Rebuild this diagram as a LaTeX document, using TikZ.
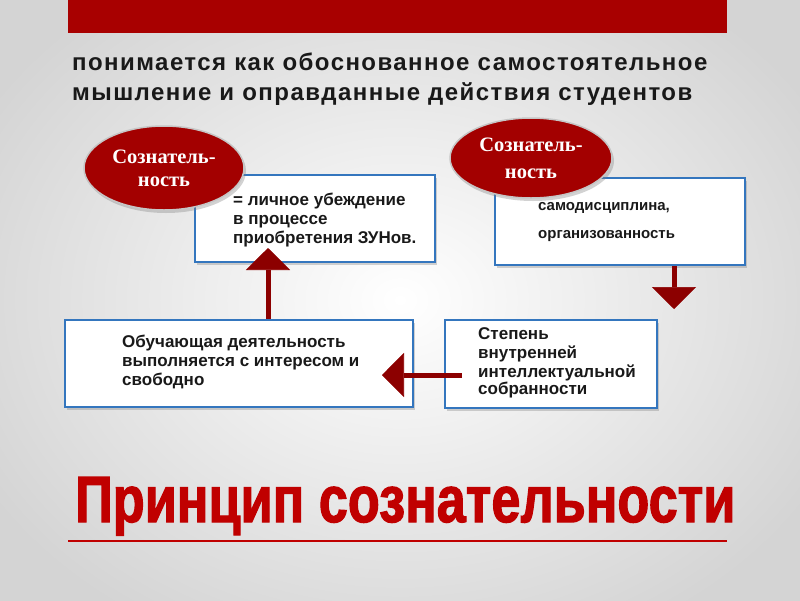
\documentclass[tikz,border=0pt]{standalone}
\usepackage{fontspec}
\setmainfont{Liberation Sans}
\newfontfamily\ellfont{Liberation Serif}
\newfontfamily\headfont[LetterSpace=6]{Liberation Sans}
\newfontfamily\titlefont[BoldFeatures={FakeBold=2}]{Liberation Sans}
\usetikzlibrary{shapes.geometric,shadows,arrows.meta}
\definecolor{barred}{RGB}{168,0,0}
\definecolor{titlered}{RGB}{192,0,0}
\definecolor{ellred}{RGB}{163,0,0}
\definecolor{arrred}{RGB}{140,0,0}
\definecolor{boxblue}{RGB}{52,118,190}
\definecolor{txtcol}{RGB}{25,25,25}
\definecolor{bgedge}{RGB}{212,212,212}
\tikzset{
  infobox/.style={draw=boxblue, line width=2.6pt, fill=white, inner sep=0pt,
    drop shadow={opacity=0.35, shadow xshift=2pt, shadow yshift=-3pt}},
  redell/.style={ellipse, fill=ellred, draw=gray!45, line width=1.5pt, inner sep=0pt,
    text=white, align=center, drop shadow={opacity=0.35, shadow xshift=2pt, shadow yshift=-3pt}},
  boxtxt/.style={anchor=base west, inner sep=0pt, text=txtcol, font=\fontsize{17}{18}\selectfont\bfseries},
  boxtxts/.style={anchor=base west, inner sep=0pt, text=txtcol, font=\fontsize{15}{18}\selectfont\bfseries},
  headtxt/.style={anchor=base west, inner sep=0pt, text=txtcol, font=\headfont\bfseries\fontsize{24}{28}\selectfont},
  arr/.style={draw=arrred, line width=5pt, -{Triangle[length=22pt,width=44pt,line width=0.6pt]}}
}
\begin{document}
\begin{tikzpicture}[x=1pt,y=-1pt]
\useasboundingbox (0,0) rectangle (800,600);
\shade[inner color=white, outer color=bgedge] (-80,-80) rectangle (880,680);
% top bar
\fill[barred] (68,0) rectangle (727,33);
% heading
\node[headtxt] (h1) at (72,70) {понимается как обоснованное самостоятельное};
\node[headtxt] (h2) at (72,100) {мышление и оправданные действия студентов};
% boxes
\node[infobox, minimum width=240pt, minimum height=87pt] (b1) at (315,218.5) {};
\node[infobox, minimum width=250pt, minimum height=87pt] (b2) at (620,221.5) {};
\node[infobox, minimum width=348pt, minimum height=87pt] (b3) at (239,363.5) {};
\node[infobox, minimum width=212pt, minimum height=88pt] (b4) at (551,364) {};
% ellipses
\node[redell, minimum width=160pt, minimum height=84pt,
  font=\ellfont\bfseries\fontsize{20.5}{23}\selectfont] (e1) at (164,168) {Сознатель-\\ность};
\node[redell, minimum width=162pt, minimum height=80pt,
  font=\ellfont\bfseries\fontsize{20.5}{27}\selectfont] (e2) at (531,158) {Сознатель-\\ность};
% box texts
\node[boxtxt] (t11) at (233,205) {= личное убеждение};
\node[boxtxt] (t12) at (233,224) {в процессе};
\node[boxtxt] (t13) at (233,243) {приобретения ЗУНов.};
\node[boxtxts] (t21) at (538,210) {самодисциплина,};
\node[boxtxts] (t22) at (538,238) {организованность};
\node[boxtxt] (t31) at (122,347) {Обучающая деятельность};
\node[boxtxt] (t32) at (122,366) {выполняется с интересом и};
\node[boxtxt] (t33) at (122,385) {свободно};
\node[boxtxt] (t41) at (478,339) {Степень};
\node[boxtxt] (t42) at (478,358) {внутренней};
\node[boxtxt] (t43) at (478,377) {интеллектуальной};
\node[boxtxt] (t44) at (478,394) {собранности};
% arrows
\coordinate (tipup) at (268,248);
\coordinate (tipdown) at (674,309);
\coordinate (tipleft) at (382,375);
\coordinate (startleft) at (462,375);
\draw[arr] (tipup |- b3.north) -- (tipup);
\draw[arr] (tipdown |- b2.south) -- (tipdown);
\draw[arr] (startleft) -- (tipleft);
% bottom title
\node[anchor=base west, inner sep=0pt, text=titlered] (title) at (75,522)
  {\resizebox{660pt}{45pt}{\titlefont\bfseries Принцип сознательности}};
\draw[titlered, line width=1.5pt] (68,541) -- (727,541);
\end{tikzpicture}
\end{document}
